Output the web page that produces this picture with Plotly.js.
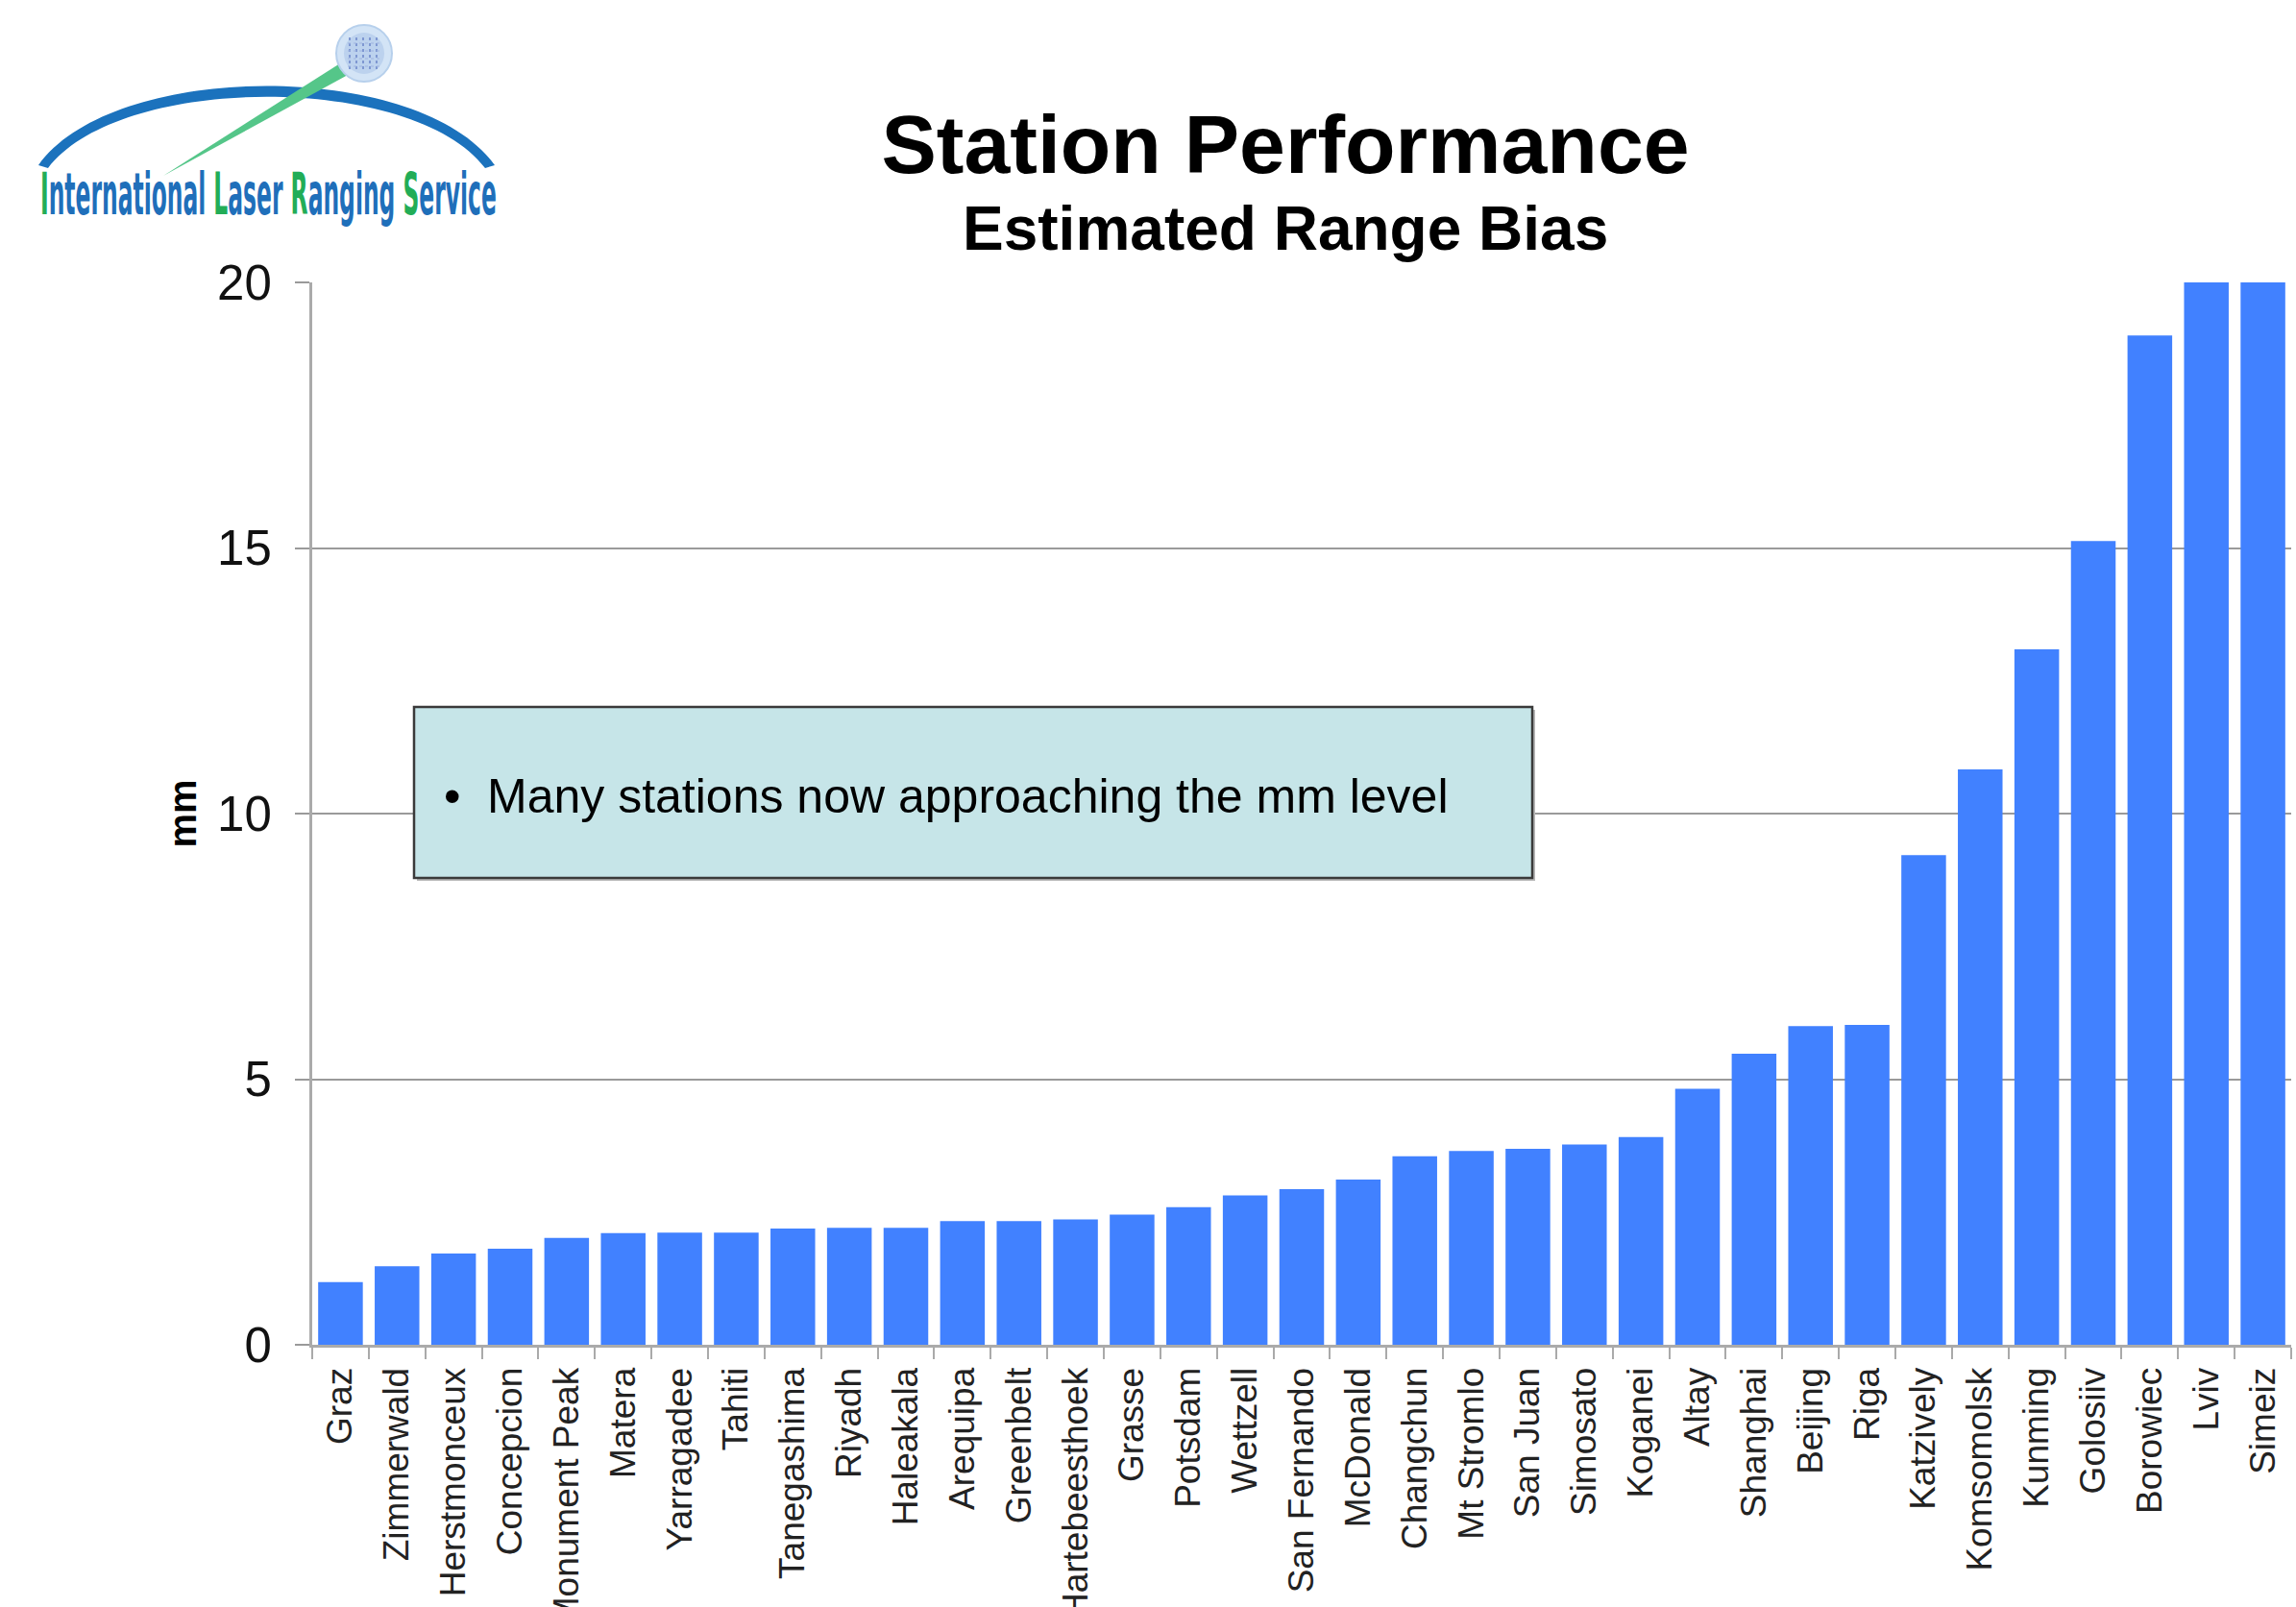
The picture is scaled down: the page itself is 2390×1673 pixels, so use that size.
<!DOCTYPE html>
<html><head><meta charset="utf-8">
<script src="https://cdn.plot.ly/plotly-3.0.1.min.js"></script>
<style>html,body{margin:0;padding:0;background:#fff;}#chart{width:2390px;height:1673px;}</style>
</head><body><div id="chart"></div>
<script>
// ---------------- data ----------------
const stations = ['Graz','Zimmerwald','Herstmonceux','Concepcion','Monument Peak','Matera','Yarragadee','Tahiti','Tanegashima','Riyadh','Haleakala','Arequipa','Greenbelt','Hartebeesthoek','Grasse','Potsdam','Wettzell','San Fernando','McDonald','Changchun','Mt Stromlo','San Juan','Simosato','Koganei','Altay','Shanghai','Beijing','Riga','Katzively','Komsomolsk','Kunming','Golosiiv','Borowiec','Lviv','Simeiz'];
const biasMm = [1.18,1.48,1.72,1.81,2.01,2.10,2.11,2.11,2.19,2.20,2.20,2.33,2.33,2.36,2.45,2.59,2.81,2.93,3.11,3.55,3.65,3.69,3.77,3.91,4.82,5.48,6.00,6.02,9.22,10.83,13.09,15.13,19.00,20.0,20.0];
const yTickVals = [0,5,10,15,20];
const yTickText = ['0','5','10','15','20'];
const chartTitle = 'Station Performance';
const chartSubtitle = 'Estimated Range Bias';
const yAxisTitle = 'mm';
const noteBullet = '\u2022';
const noteText = 'Many stations now approaching the mm level';
const logoWords = [['I','nternational'],['L','aser'],['R','anging'],['S','ervice']];

// ---------------- layout helpers (pixel -> paper) ----------------
const W = 2390, H = 1673, L = 325, R = 2385, T = 294, B = 1400;
const px = x => (x - L) / (R - L);
const py = y => (B - y) / (B - T);
const P = (x, y) => px(x) + ',' + py(y);
const FONT = 'Liberation Sans, Arial, Helvetica, sans-serif';
const logoGreen = '#22ad57', logoBlue = '#1f6fba';

const logoHtml = logoWords.map(w => '<span style="color:' + logoGreen + '">' + w[0] + '</span>' + w[1]).join(' ');

const trace = {
  type: 'bar', x: stations, y: biasMm,
  marker: {color: '#4181ff', line: {width: 0}},
  hoverinfo: 'x+y'
};

const shapes = [
  // note box shadow + box
  {type:'rect', xref:'paper', yref:'paper', x0:px(434), x1:px(1598), y0:py(917), y1:py(739), fillcolor:'#b8b8b8', line:{width:0}, layer:'above'},
  {type:'rect', xref:'paper', yref:'paper', x0:px(431), x1:px(1595), y0:py(914), y1:py(736), fillcolor:'#c6e5e8', line:{color:'#3a3a3a', width:2.5}, layer:'above'},
  // logo arc
  {type:'path', xref:'paper', yref:'paper', layer:'above', fillcolor:'#1b72bd', line:{width:0},
   path:'M ' + P(40,172) + ' C ' + P(118,62) + ' ' + P(437,62) + ' ' + P(515,172) + ' L ' + P(505,175) + ' C ' + P(430,76) + ' ' + P(125,76) + ' ' + P(50,175) + ' Z'},
  // laser beam
  {type:'path', xref:'paper', yref:'paper', layer:'above', fillcolor:'#55c689', line:{width:0},
   path:'M ' + P(170,183) + ' L ' + P(354,66) + ' L ' + P(362,78) + ' Z'},
  // globe
  {type:'circle', xref:'paper', yref:'paper', layer:'above', x0:px(350), x1:px(408), y0:py(85), y1:py(26), fillcolor:'#d3e4f6', line:{color:'#b7d0ec', width:2}},
  {type:'circle', xref:'paper', yref:'paper', layer:'above', x0:px(358), x1:px(400), y0:py(77), y1:py(34), fillcolor:'#bcd2ee', line:{width:0}}
];
// globe mesh
[364,371,378,385,392].forEach(gx => {
  shapes.push({type:'line', xref:'paper', yref:'paper', layer:'above', x0:px(gx), x1:px(gx), y0:py(72), y1:py(38), line:{color:'#7f98d2', width:2, dash:'dot'}});
});
[45,53,61,69].forEach(gy => {
  shapes.push({type:'line', xref:'paper', yref:'paper', layer:'above', x0:px(362), x1:px(396), y0:py(gy), y1:py(gy), line:{color:'#9fb4e0', width:1, dash:'dot'}});
});

const annotations = [
  {text: chartSubtitle, xref:'paper', yref:'paper', x:px(1338), y:py(275.6), xanchor:'center', yanchor:'bottom', showarrow:false,
   font:{family:FONT, size:64, color:'#000', weight:'bold'}},
  {text: noteBullet, xref:'paper', yref:'paper', x:px(460), y:py(828.7), xanchor:'left', yanchor:'middle', showarrow:false,
   font:{family:FONT, size:50, color:'#000'}},
  {text: noteText, xref:'paper', yref:'paper', x:px(505), y:py(828.7), xanchor:'left', yanchor:'middle', showarrow:false,
   font:{family:FONT, size:50, color:'#000'}},
  {text: logoHtml, xref:'paper', yref:'paper', x:px(279.5), y:py(202), xanchor:'center', yanchor:'middle', showarrow:false,
   font:{family:'Liberation Sans Narrow, DejaVu Sans Condensed, Arial Narrow, sans-serif', size:60, color:logoBlue, weight:'bold'}}
];

const layout = {
  width: W, height: H,
  margin: {l: L, r: W - R, t: T, b: H - B, pad: 0},
  paper_bgcolor: '#ffffff', plot_bgcolor: '#ffffff',
  showlegend: false,
  bargap: 0.21,
  font: {family: FONT, color: '#111'},
  title: {text: chartTitle, font:{family:FONT, size:86, color:'#000', weight:'bold'},
          xref:'container', x:1338/W, xanchor:'center', yref:'container', y:1 - 119.8/H, yanchor:'top'},
  xaxis: {
    type:'category', categoryorder:'array', categoryarray: stations,
    showline:true, linecolor:'#aaaaaa', linewidth:3, mirror:false,
    ticks:'outside', tickson:'boundaries', ticklen:12, tickwidth:2, tickcolor:'#aaaaaa',
    tickangle:-90, tickfont:{family:FONT, size:37, color:'#222'}, ticklabelstandoff:6,
    showgrid:false, zeroline:false, fixedrange:true
  },
  yaxis: {
    range:[0,20], tickvals:yTickVals, ticktext:yTickText,
    showline:true, linecolor:'#aaaaaa', linewidth:3,
    ticks:'outside', ticklen:15, tickwidth:2, tickcolor:'#9a9a9a',
    showgrid:true, gridcolor:'#9a9a9a', gridwidth:2, zeroline:false,
    tickfont:{family:FONT, size:51, color:'#111'}, ticklabelstandoff:14,
    title:{text:yAxisTitle, font:{family:FONT, size:40, color:'#000', weight:'bold'}, standoff:10},
    fixedrange:true
  },
  shapes: shapes,
  annotations: annotations
};

Plotly.newPlot('chart', [trace], layout, {displayModeBar:false, staticPlot:true}).then(gd => {
  gd.querySelectorAll('.annotation-text').forEach(t => {
    if (t.textContent.indexOf('International') === 0) {
      const bb = t.getBBox();
      const s = 475 / bb.width;
      const cx = bb.x + bb.width / 2;
      t.setAttribute('transform', 'translate(' + cx + ',0) scale(' + s + ',1) translate(' + (-cx) + ',0)');
    }
  });
});
</script>
</body></html>
